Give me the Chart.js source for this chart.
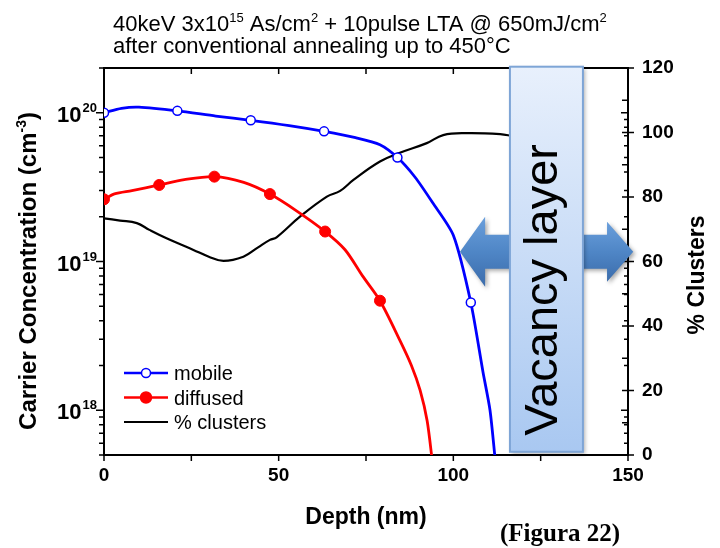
<!DOCTYPE html>
<html>
<head>
<meta charset="utf-8">
<script src="https://cdn.jsdelivr.net/npm/chart.js@4.4.0/dist/chart.umd.min.js"></script>
<style>
  html, body { margin: 0; padding: 0; background: #fff; }
</style>
</head>
<body>
<canvas id="chart" width="720" height="548"></canvas>
<script>
// carrier concentration, mobile arsenic (cm^-3) vs depth (nm)
const mobileDepth = [0, 5, 10, 21, 32, 42, 53, 63, 72, 79, 84, 89, 94, 100, 105, 108.5, 110.5, 112];
const mobileConc = [1.0e20, 1.07e20, 1.09e20, 1.03e20, 9.5e19, 8.9e19, 8.2e19, 7.5e19, 6.8e19, 6.1e19, 5.0e19, 3.7e19, 2.5e19, 1.5e19, 5.3e18, 1.8e18, 1.0e18, 4.6e17];
const mobileMarkDepth = [0, 21, 42, 63, 84, 105];
const mobileMarkConc = [1.0e20, 1.03e20, 8.9e19, 7.5e19, 5.0e19, 5.3e18];

// diffused arsenic
const diffusedDepth = [0, 3, 8, 15.8, 23, 31.6, 40, 47.5, 55, 63.3, 69, 74, 79, 84.7, 88, 90.5, 92.5, 94];
const diffusedConc = [2.62e19, 2.85e19, 3.0e19, 3.27e19, 3.55e19, 3.72e19, 3.4e19, 2.84e19, 2.2e19, 1.59e19, 1.2e19, 8.0e18, 5.45e18, 2.95e18, 2.0e18, 1.36e18, 8.5e17, 4.5e17];
const diffusedMarkDepth = [0, 15.8, 31.6, 47.5, 63.3, 79];
const diffusedMarkConc = [2.62e19, 3.27e19, 3.72e19, 2.84e19, 1.59e19, 5.45e18];

// % clusters (right axis)
const clusterDepth = [0, 4.6, 9.4, 13, 17.9, 25.6, 30, 34.2, 39.9, 44, 47.5, 49.4, 56.1, 63.8, 67.6, 71.4, 79, 84.7, 92.4, 97.1, 103.8, 113.4, 117];
const clusterPct = [73.4, 72.7, 71.9, 69.8, 67.2, 63.6, 61.5, 60.2, 61.5, 64.3, 66.7, 67.5, 73.9, 80.1, 81.9, 85.3, 91.0, 93.7, 96.7, 99.2, 99.8, 99.5, 98.9];

// tick labels
const depthLabels = [0, 50, 100, 150];
const concDecades = [1e18, 1e19, 1e20];
const concExponents = ['18', '19', '20'];
const clusterLabels = [0, 20, 40, 60, 80, 100, 120];

const FONT = "'Liberation Sans', Arial, sans-serif";
const SERIF = "'Liberation Serif', 'Times New Roman', serif";

const pts = (xs, ys) => xs.map((x, i) => ({ x: x, y: ys[i] }));

// draws text with superscript parts, returns width
function richText(ctx, parts, x, y, size, weight, draw) {
  let w = 0;
  parts.forEach(p => {
    const s = p.sup ? Math.round(size * 0.6) : size;
    ctx.font = weight + ' ' + s + 'px ' + FONT;
    if (draw) ctx.fillText(p.t, x + w, p.sup ? y - size * 0.42 : y);
    w += ctx.measureText(p.t).width;
  });
  return w;
}

const decor = {
  id: 'decor',
  beforeDatasetsDraw(chart) {
    const ctx = chart.ctx;
    const { left, right, top, bottom } = chart.chartArea;
    const xs = chart.scales.x, ys = chart.scales.y, y2 = chart.scales.y2;
    ctx.save();
    ctx.strokeStyle = '#000';
    ctx.lineWidth = 2;
    ctx.strokeRect(left, top, right - left, bottom - top);
    ctx.lineWidth = 1.5;
    ctx.beginPath();
    xs.ticks.forEach(t => {
      const px = xs.getPixelForValue(t.value);
      ctx.moveTo(px, bottom); ctx.lineTo(px, bottom + 6);
      ctx.moveTo(px, top); ctx.lineTo(px, top + 6);
    });
    for (let e = 17; e <= 20; e++) {
      for (let m = 1; m <= 9; m++) {
        const v = m * Math.pow(10, e);
        if (v < ys.min || v > ys.max) continue;
        const py = ys.getPixelForValue(v);
        ctx.moveTo(left - (m === 1 ? 8 : 5), py); ctx.lineTo(left, py);
        ctx.moveTo(right - (m === 1 ? 7 : 4), py); ctx.lineTo(right, py);
      }
    }
    y2.ticks.forEach(t => {
      const py = y2.getPixelForValue(t.value);
      const major = t.value % 20 === 0;
      ctx.moveTo(right - 6, py); ctx.lineTo(right + (major ? 6 : 0), py);
    });
    ctx.stroke();
    ctx.restore();
  },
  afterDatasetsDraw(chart) {
    const ctx = chart.ctx;
    const xs = chart.scales.x, y2 = chart.scales.y2;
    const X = v => xs.getPixelForValue(v), Y = v => y2.getPixelForValue(v);
    ctx.save();
    // arrows behind the vacancy box
    const cy = Y(63);
    const arrow = (tip, base, end, hh, sh) => {
      ctx.beginPath();
      ctx.moveTo(tip, cy);
      ctx.lineTo(base, cy - hh);
      ctx.lineTo(base, cy - sh);
      ctx.lineTo(end, cy - sh);
      ctx.lineTo(end, cy + sh);
      ctx.lineTo(base, cy + sh);
      ctx.lineTo(base, cy + hh);
      ctx.closePath();
      const g = ctx.createLinearGradient(0, cy - hh, 0, cy + hh);
      g.addColorStop(0, '#6a9fdc');
      g.addColorStop(0.5, '#4f86c6');
      g.addColorStop(1, '#3b6cab');
      ctx.fillStyle = g;
      ctx.shadowColor = 'rgba(0,0,0,0.35)';
      ctx.shadowBlur = 4;
      ctx.shadowOffsetX = 2;
      ctx.shadowOffsetY = 2;
      ctx.fill();
      ctx.shadowColor = 'transparent';
    };
    arrow(X(101.9), X(109.1), X(120), 35, 17);
    arrow(X(151.5), X(144), X(133), 30, 17);
    // vacancy layer box
    const bx0 = X(116.2), bx1 = X(137.1), by0 = Y(120.4), by1 = Y(1.0);
    const g = ctx.createLinearGradient(0, by0, 0, by1);
    g.addColorStop(0, '#e8f0fc');
    g.addColorStop(1, '#a9c8f1');
    ctx.fillStyle = g;
    ctx.shadowColor = 'rgba(0,0,0,0.3)';
    ctx.shadowBlur = 4;
    ctx.shadowOffsetX = 2;
    ctx.shadowOffsetY = 2;
    ctx.fillRect(bx0, by0, bx1 - bx0, by1 - by0);
    ctx.shadowColor = 'transparent';
    ctx.strokeStyle = '#7ea5d6';
    ctx.lineWidth = 2;
    ctx.strokeRect(bx0, by0, bx1 - bx0, by1 - by0);
    ctx.translate(bx0 + 47, Y(51.2));
    ctx.rotate(-Math.PI / 2);
    ctx.fillStyle = '#000';
    ctx.font = '47px ' + FONT;
    ctx.textAlign = 'center';
    ctx.textBaseline = 'alphabetic';
    ctx.fillText('Vacancy layer', 0, 0);
    ctx.restore();
  },
  afterDraw(chart) {
    const ctx = chart.ctx;
    const { left, right, top, bottom } = chart.chartArea;
    const ys = chart.scales.y;
    ctx.save();
    ctx.fillStyle = '#000';
    ctx.textBaseline = 'alphabetic';
    ctx.textAlign = 'left';

    // title
    richText(ctx, [{ t: '40keV 3x10' }, { t: '15', sup: true }, { t: ' As/cm' }, { t: '2', sup: true },
      { t: ' + 10pulse LTA @ 650mJ/cm' }, { t: '2', sup: true }], 113, 31, 22, 'normal', true);
    richText(ctx, [{ t: 'after conventional annealing up to 450°C' }], 113, 53, 22, 'normal', true);

    // left tick labels 10^n
    concDecades.forEach((v, i) => {
      const py = ys.getPixelForValue(v);
      ctx.font = 'bold 13px ' + FONT;
      const ew = ctx.measureText(concExponents[i]).width;
      ctx.fillText(concExponents[i], left - 7 - ew, py - 1);
      ctx.font = 'bold 22px ' + FONT;
      const bw = ctx.measureText('10').width;
      ctx.fillText('10', left - 8 - ew - bw, py + 9);
    });

    // left axis title
    ctx.save();
    ctx.translate(36, 271);
    ctx.rotate(-Math.PI / 2);
    const lt = [{ t: 'Carrier Concentration (cm' }, { t: '-3', sup: true }, { t: ')' }];
    const lw = richText(ctx, lt, 0, 0, 24, 'bold', false);
    richText(ctx, lt, -lw / 2, 0, 24, 'bold', true);
    ctx.restore();

    // right axis title
    ctx.save();
    ctx.translate(704, 275);
    ctx.rotate(-Math.PI / 2);
    ctx.font = 'bold 23px ' + FONT;
    ctx.textAlign = 'center';
    ctx.fillText('% Clusters', 0, 0);
    ctx.restore();

    // x axis title
    ctx.font = 'bold 23px ' + FONT;
    ctx.textAlign = 'center';
    ctx.fillText('Depth (nm)', (left + right) / 2, 524);
    ctx.font = 'bold 25px ' + SERIF;
    ctx.textAlign = 'left';
    ctx.fillText('(Figura 22)', 500, 541);

    // legend
    const rows = [
      { label: 'mobile', color: '#0000ff', mark: 'open' },
      { label: 'diffused', color: '#ff0000', mark: 'filled' },
      { label: '% clusters', color: '#000000', mark: null }
    ];
    rows.forEach((r, i) => {
      const y = 373 + i * 24.5;
      ctx.strokeStyle = r.color;
      ctx.lineWidth = r.mark ? 2.5 : 2;
      ctx.beginPath();
      ctx.moveTo(124, y); ctx.lineTo(168, y);
      ctx.stroke();
      if (r.mark) {
        ctx.beginPath();
        ctx.arc(146, y, r.mark === 'open' ? 4.5 : 5.5, 0, Math.PI * 2);
        ctx.fillStyle = r.mark === 'open' ? '#fff' : r.color;
        ctx.fill();
        ctx.lineWidth = 1.5;
        ctx.stroke();
      }
      ctx.fillStyle = '#000';
      ctx.font = '20px ' + FONT;
      ctx.fillText(r.label, 174, y + 7);
    });
    ctx.restore();
  }
};

new Chart(document.getElementById('chart'), {
  type: 'line',
  data: {
    datasets: [
      {
        label: 'mobile', data: pts(mobileMarkDepth, mobileMarkConc), yAxisID: 'y',
        showLine: false, pointRadius: 4.5, pointBackgroundColor: '#fff',
        pointBorderColor: '#0000ff', pointBorderWidth: 1.5
      },
      {
        label: 'mobile curve', data: pts(mobileDepth, mobileConc), yAxisID: 'y',
        borderColor: '#0000ff', borderWidth: 2.8, pointRadius: 0, tension: 0.25
      },
      {
        label: 'diffused', data: pts(diffusedMarkDepth, diffusedMarkConc), yAxisID: 'y',
        showLine: false, pointRadius: 5.5, pointBackgroundColor: '#ff0000',
        pointBorderColor: '#ff0000', pointBorderWidth: 1
      },
      {
        label: 'diffused curve', data: pts(diffusedDepth, diffusedConc), yAxisID: 'y',
        borderColor: '#ff0000', borderWidth: 2.8, pointRadius: 0, tension: 0.3
      },
      {
        label: '% clusters', data: pts(clusterDepth, clusterPct), yAxisID: 'y2',
        borderColor: '#000', borderWidth: 2.2, pointRadius: 0, tension: 0.4
      }
    ]
  },
  options: {
    responsive: false,
    animation: false,
    layout: { padding: { top: 68, left: 0, right: 0, bottom: 0 } },
    plugins: { legend: { display: false }, tooltip: { enabled: false } },
    scales: {
      x: {
        type: 'linear', min: 0, max: 150, position: 'bottom',
        ticks: {
          stepSize: 25, autoSkip: false, maxRotation: 0, padding: 3, color: '#000',
          font: { family: FONT, size: 19, weight: 'bold' },
          callback: v => depthLabels.includes(v) ? String(v) : ''
        },
        grid: { display: false, drawTicks: true, tickLength: 6 },
        border: { display: false },
        afterFit: s => { s.height = 93; }
      },
      y: {
        type: 'logarithmic', position: 'left', min: 5e17, max: 2e20,
        ticks: { display: false },
        grid: { display: false },
        border: { display: false },
        afterFit: s => { s.width = 104; }
      },
      y2: {
        type: 'linear', position: 'right', min: 0, max: 120,
        ticks: {
          stepSize: 10, autoSkip: false, padding: 8, color: '#000',
          font: { family: FONT, size: 19, weight: 'bold' },
          callback: v => clusterLabels.includes(v) ? String(v) : ''
        },
        grid: { display: false, drawTicks: true, tickLength: 6 },
        border: { display: false },
        afterFit: s => { s.width = 92; }
      }
    }
  },
  plugins: [decor]
});
</script>
</body>
</html>
